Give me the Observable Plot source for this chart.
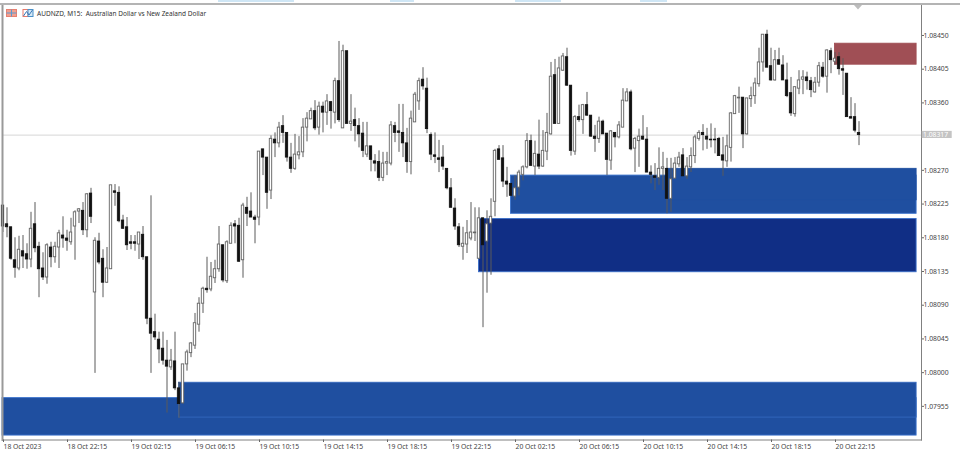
<!DOCTYPE html>
<html>
<head>
<meta charset="utf-8">
<script src="https://cdn.jsdelivr.net/npm/d3@7"></script>
<script src="https://cdn.jsdelivr.net/npm/@observablehq/plot@0.6"></script>
<style>
html,body{margin:0;padding:0;background:#fff;width:960px;height:452px;overflow:hidden}
#chart{position:absolute;left:0;top:0}
svg{display:block}
.strip{position:absolute}
</style>
</head>
<body>
<div id="chart"></div>
<div class="strip" style="left:0;top:2.5px;width:960px;height:2px;background:#b4b4b4"></div>
<div class="strip" style="left:218px;top:0;width:76px;height:1.5px;background:#cfe6f5"></div>
<div class="strip" style="left:390px;top:0;width:24px;height:1.5px;background:#cfe6f5"></div>
<div class="strip" style="left:515px;top:0;width:46px;height:1.5px;background:#cfe6f5"></div>
<div class="strip" style="left:640px;top:0;width:27px;height:1.5px;background:#cfe6f5"></div>
<svg class="strip" style="left:5px;top:8px" width="30" height="10">
  <rect x="1.5" y="1.5" width="10" height="7" fill="#f0a090" stroke="#e88070"/>
  <path d="M6.5 1.5V8.5M1.5 5H11.5" stroke="#5a9ad0"/>
  <rect x="18" y="1.5" width="5" height="7" fill="#fff" stroke="#e87a6a"/>
  <rect x="23" y="1.5" width="5" height="7" fill="#d5e8f5" stroke="#4a90c8"/>
  <path d="M18.5 8L21.5 3.5L24 7L27.5 2" fill="none" stroke="#3a78b8"/>
</svg>
<svg class="strip" style="left:853px;top:4.5px" width="10" height="6"><path d="M1 0H9L5 4.5Z" fill="#bdbdbd"/></svg>
<script>
const base = 1.08, pt = 1e-5;
const tickBars = [0,16,32,48,64,80,96,112,128,144,160,176,192,208];
const tickLabels = ["18 Oct 2023","18 Oct 22:15","19 Oct 02:15","19 Oct 06:15","19 Oct 10:15","19 Oct 14:15","19 Oct 18:15","19 Oct 22:15","20 Oct 02:15","20 Oct 06:15","20 Oct 10:15","20 Oct 14:15","20 Oct 18:15","20 Oct 22:15"];
const priceTicks = [1.0845,1.08405,1.0836,1.0827,1.08225,1.0818,1.08135,1.0809,1.08045,1.08,1.07955];
const lastPrice = 1.08317;
const title = "AUDNZD, M15:  Australian Dollar vs New Zealand Dollar";

// prices, in points above 1.08000
const opens = [223,198,194,150,139,162,158,151,198,168,139,127,167,154,167,183,179,174,195,215,216,190,239,107,175,152,120,138,242,240,203,194,174,174,171,184,154,72,54,44,32,16,7,15,-21,-41,11,26,36,64,92,112,111,126,138,170,122,172,198,196,150,220,215,207,207,298,287,243,311,306,329,320,287,272,290,294,327,338,349,327,355,347,361,347,389,326,429,332,337,329,319,291,302,282,281,260,279,279,329,322,320,306,281,334,362,391,379,317,290,286,287,272,246,219,194,168,171,179,186,152,206,175,199,228,298,286,255,252,235,247,264,274,309,275,291,275,295,318,397,332,403,421,383,295,341,337,357,343,315,312,335,319,283,320,314,327,362,374,299,309,315,311,267,262,260,272,272,232,259,278,290,262,274,289,312,320,315,311,311,312,290,282,300,345,366,367,318,365,369,385,414,451,409,390,417,410,390,373,345,379,391,394,389,374,387,407,395,429,415,421,405,399,341,341,320];
const closes = [195,194,152,140,164,155,151,192,166,138,127,170,154,168,186,179,176,187,214,218,190,238,208,176,147,120,139,250,240,202,192,170,172,172,187,154,72,52,47,31,16,8,16,-21,-42,11,27,39,66,92,112,110,128,138,171,123,174,196,195,148,223,212,207,204,295,287,240,312,306,327,320,287,272,291,294,327,339,349,326,355,347,362,349,389,337,429,332,335,329,318,296,302,284,279,260,279,281,330,320,320,306,281,339,371,389,382,325,291,288,284,275,246,220,195,170,172,186,187,187,206,170,198,208,296,284,255,251,236,246,267,274,309,276,292,275,296,320,395,332,406,422,383,296,341,337,357,343,315,312,335,318,284,322,314,330,363,374,298,312,315,311,267,264,260,272,274,232,258,279,287,262,275,289,314,320,317,311,310,310,289,283,302,346,369,367,318,366,369,386,414,451,407,390,417,411,390,369,346,381,390,394,389,377,387,409,395,430,417,419,405,403,341,339,323,317];
const highs = [223,220,194,180,182,183,172,214,227,174,160,172,174,174,190,208,190,206,216,219,227,239,246,180,186,164,167,250,251,248,210,207,183,183,187,195,154,236,78,54,54,43,31,54,-13,11,30,40,79,100,114,154,147,150,195,170,176,200,203,206,226,234,240,210,295,298,287,316,320,334,343,320,306,318,315,339,347,353,363,361,361,371,362,393,442,437,429,371,353,339,334,334,302,291,296,294,294,335,334,358,358,326,349,374,393,407,393,320,320,310,303,272,259,232,199,194,203,227,220,220,206,216,232,298,303,303,274,252,263,270,276,319,317,309,337,323,346,414,418,421,426,433,383,343,357,358,374,343,330,341,337,319,323,320,335,379,379,377,314,325,343,327,276,279,300,294,286,286,287,294,299,287,300,317,323,331,326,332,326,314,314,317,347,370,381,367,366,381,393,433,451,457,433,430,433,423,413,394,381,403,403,401,394,394,414,414,431,433,427,427,419,399,367,359,335];
const lows = [187,180,150,126,136,139,138,140,160,100,123,118,140,146,139,166,162,170,150,199,183,180,199,-1,144,100,119,138,222,200,191,163,164,162,151,150,64,-1,43,12,10,-54,3,-24,-61,-42,2,20,31,54,79,106,108,119,134,120,119,172,172,147,126,195,207,172,196,263,218,231,287,300,306,281,266,270,284,287,308,338,323,317,320,330,325,332,334,326,332,322,308,300,287,287,268,268,255,255,263,276,307,294,287,266,264,334,350,377,319,283,279,267,270,244,220,190,167,150,159,176,175,152,60,106,130,208,284,247,234,235,230,236,256,272,275,263,271,274,283,317,332,332,402,382,289,290,334,318,342,314,294,306,318,263,270,300,312,327,362,296,267,274,310,267,252,243,250,243,212,214,259,274,262,258,267,279,309,296,298,300,292,289,262,274,281,345,346,299,317,354,358,381,401,407,389,389,410,390,367,342,341,371,371,377,367,373,381,393,373,399,410,397,370,341,339,320,303];

// zones: first bar, last bar, lower and upper price in points above 1.08000
const zoneStart = [-0.125,44,127,166,119,208];
const zoneEnd   = [228.4,228.4,228.4,228.4,228.4,228.4];
const zoneLow   = [-84,-60,212,230,134,411];
const zoneHigh  = [-34,-13.5,263,272,205,439];
const zoneFill  = ["#1f4fa0","#1f4fa0","#1f4fa0","#1f4fa0","#102e85","#a04f55"];
const zoneEdge  = ["#3a72cc","#3468bd","#3a72cc","#1f4fa0","#3a6ec8","#a04f55"];

const price = p => base + p*pt;
const bars = opens.map((o,i)=>({i,o:price(o),c:price(closes[i]),h:price(highs[i]),l:price(lows[i]),up:closes[i]>o}));
const zones = zoneStart.map((s,k)=>({s,e:zoneEnd[k],lo:price(zoneLow[k]),hi:price(zoneHigh[k]),f:zoneFill[k],ed:zoneEdge[k]}));

const font = "'Noto Sans', sans-serif";
const chart = Plot.plot({
  width: 960, height: 452,
  marginLeft: 2, marginRight: 39, marginTop: 5, marginBottom: 12.5,
  style: {fontFamily: font, fontSize: "6.8px", background: "transparent", overflow: "visible"},
  x: {domain: [-0.125, 229.625], axis: null},
  y: {domain: [price(-89.9), price(490)], axis: null},
  marks: [
    Plot.rect(zones, {x1:"s", x2:"e", y1:"lo", y2:"hi", fill:d=>d.f, stroke:d=>d.ed, strokeWidth:0.9, inset:0}),
    Plot.ruleY([lastPrice], {stroke:"#d6d6d6", strokeWidth:1}),
    Plot.ruleX(bars, {x:"i", y1:"l", y2:"h", stroke:"#5a5a5a", strokeWidth:1}),
    Plot.rect(bars.filter(d=>!d.up), {x1:d=>d.i-0.3, x2:d=>d.i+0.3, y1:"o", y2:"c", fill:"#111", stroke:"#111", strokeWidth:0.8, inset:0}),
    Plot.rect(bars.filter(d=>d.up), {x1:d=>d.i-0.3, x2:d=>d.i+0.3, y1:"o", y2:"c", fill:"#fff", stroke:"#666", strokeWidth:0.9, inset:0}),
    Plot.frame({anchor:"right", stroke:"#808080"}),
    Plot.frame({anchor:"bottom", stroke:"#808080"}),
    Plot.frame({anchor:"left", stroke:"#999", strokeWidth:2}),
    Plot.axisX({ticks:tickBars, tickFormat:i=>tickLabels[tickBars.indexOf(i)], tickSize:2.5, tickPadding:1.5, textAnchor:"start", dx:0.5, fill:"#444", stroke:"#666"}),
    Plot.axisY({anchor:"right", ticks:priceTicks, tickFormat:v=>v.toFixed(5), tickSize:2, tickPadding:0, fill:"#444", stroke:"#666"}),
    Plot.rect([lastPrice], {x1:229.8, x2:237.3, y1:()=>price(322), y2:()=>price(312.5), fill:"#c4c4c4", inset:0}),
    Plot.text([lastPrice], {x:230, y:d=>d, text:d=>d.toFixed(5), textAnchor:"start", fill:"#fff"}),
    Plot.text([title], {frameAnchor:"top-left", dx:34.5, dy:5.5, fill:"#333", fontSize:6.5, textAnchor:"start"})
  ]
});
document.getElementById("chart").appendChild(chart);
</script>
</body>
</html>
